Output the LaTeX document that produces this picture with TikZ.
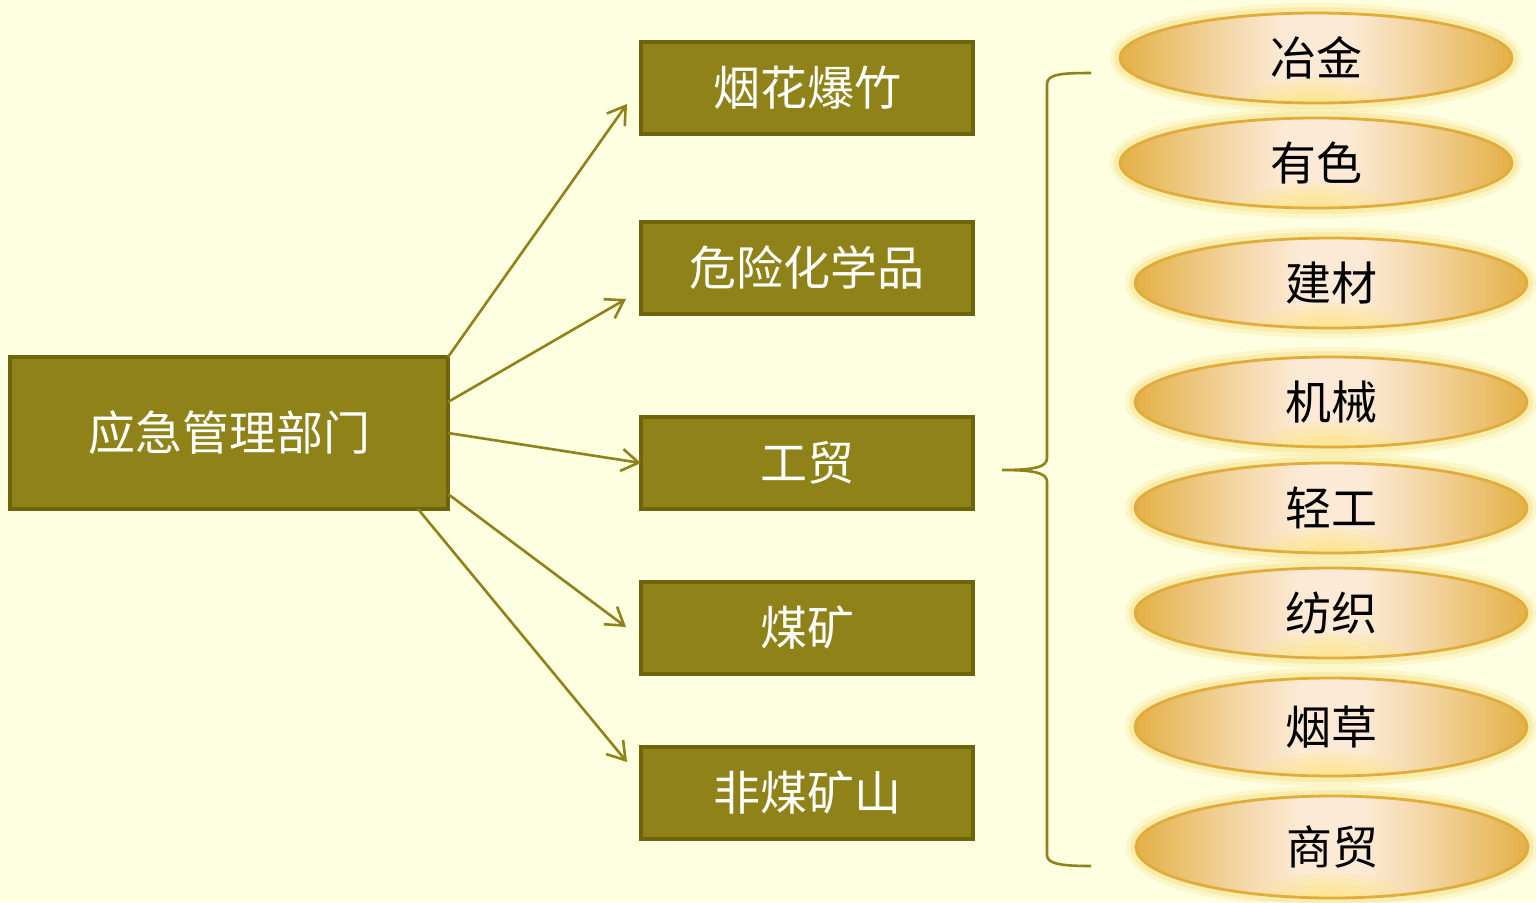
\documentclass[tikz,border=0pt]{standalone}
\usepackage{fontspec}
\newfontfamily\cjk{Noto Sans CJK SC}
\usetikzlibrary{arrows.meta,shapes.geometric}

\definecolor{bgc}{RGB}{254,254,224}
\definecolor{olivefill}{RGB}{143,130,24}
\definecolor{olivedark}{RGB}{110,100,12}
\definecolor{cream}{RGB}{252,234,214}
\definecolor{goldc}{RGB}{228,176,70}
\definecolor{goldline}{RGB}{226,172,58}
\definecolor{glowc}{RGB}{245,218,110}
\definecolor{spotc}{RGB}{252,228,100}

\pgfdeclarehorizontalshading{goldh}{100bp}{%
  color(0bp)=(goldc); color(25bp)=(goldc); color(38bp)=(cream!65!goldc);
  color(46bp)=(cream); color(54bp)=(cream); color(62bp)=(cream!65!goldc);
  color(75bp)=(goldc); color(100bp)=(goldc)}

\begin{document}
\begin{tikzpicture}
[x=0.5pt,y=-0.5pt,
 every node/.style={inner sep=0pt,outer sep=0pt},
 dept/.style={rectangle,draw=olivedark,line width=2pt,fill=olivefill,text=white,
   minimum width=166pt,minimum height=46pt,font=\cjk\fontsize{23.5}{28}\selectfont},
 ind/.style={ellipse,draw=goldline,line width=1.4pt,shading=goldh,
   minimum width=196pt,minimum height=45pt,font=\cjk\fontsize{23}{28}\selectfont,
   preaction={draw=glowc,line width=10pt,opacity=0.2},
   preaction={draw=glowc,line width=6pt,opacity=0.3},
   path picture={\foreach \r in {1,...,6}
     \fill[spotc,opacity=0.16] ([yshift=-3pt]path picture bounding box.south)
       ellipse (\r*6.5pt and \r*2.6pt);}},
 arr/.style={draw=olivefill,line width=1.3pt,-{Straight Barb[length=8.5pt,width=11pt,line width=1.3pt]}}]
\fill[bgc] (0,0) rectangle (1536,902);
\useasboundingbox (0,0) rectangle (1536,902);

% left box
\node[dept,minimum width=219pt,minimum height=76pt] (main) at (229,433) {应急管理部门};

% middle boxes
\node[dept] (fw) at (807,88)  {烟花爆竹};
\node[dept] (hc) at (807,268) {危险化学品};
\node[dept] (it) at (807,463) {工贸};
\node[dept] (cm) at (807,628) {煤矿};
\node[dept] (nm) at (807,793) {非煤矿山};

% arrows
\draw[arr] (main.north east)                  -- ([shift={(-14,16)}]fw.west);
\draw[arr] ([shift={(0,-31)}]main.east)       -- ([shift={(-15,31)}]hc.west);
\draw[arr] (main.east)                        -- (it.west);
\draw[arr] ([shift={(0,61)}]main.east)        -- ([shift={(-15,-1)}]cm.west);
\draw[arr] ([shift={(-30,0)}]main.south east) -- ([shift={(-14,-31)}]nm.west);

% brace
\draw[olivefill,line width=1.3pt]
  (1091,73) .. controls (1062,73) and (1047,74) .. (1047,84) -- (1047,458)
  .. controls (1047,467) and (1035,470) .. (1002,470)
  .. controls (1035,470) and (1047,473) .. (1047,482) -- (1047,855)
  .. controls (1047,864) and (1062,866) .. (1091,866);

% right ellipses
\node[ind] (e1) at (1316,58)  {冶金};
\node[ind] (e2) at (1316,163) {有色};
\node[ind] (e3) at (1331,283) {建材};
\node[ind] (e4) at (1331,402) {机械};
\node[ind] (e5) at (1331,508) {轻工};
\node[ind] (e6) at (1331,613) {纺织};
\node[ind,minimum height=49pt] (e7) at (1331,727) {烟草};
\node[ind,minimum height=51pt] (e8) at (1332,847) {商贸};
\end{tikzpicture}
\end{document}
